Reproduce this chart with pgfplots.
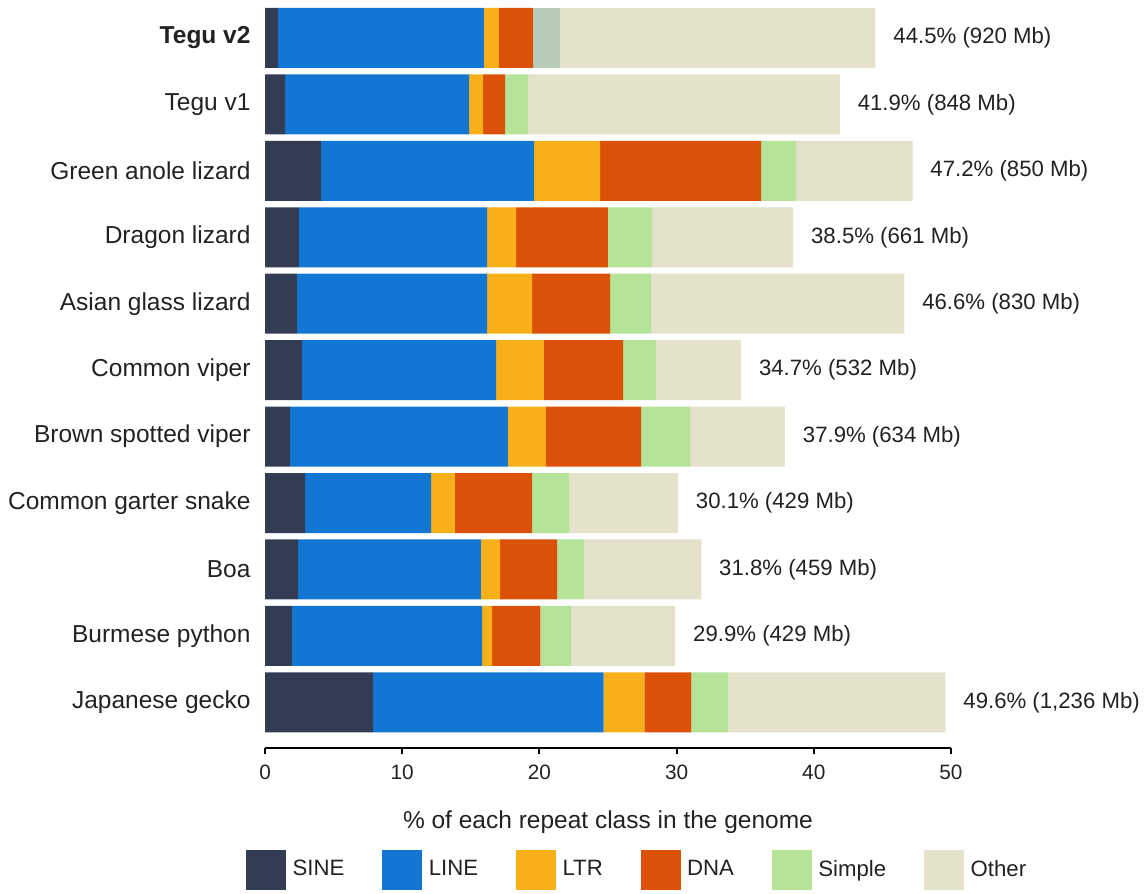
\documentclass[border=0pt]{standalone}
\usepackage{pgfplots}
\pgfplotsset{compat=1.18}
\usepackage{fontspec}
\setmainfont{Liberation Sans}
\definecolor{cSINE}{HTML}{323C52}
\definecolor{cLINE}{HTML}{1177D3}
\definecolor{cLTR}{HTML}{F8B01A}
\definecolor{cDNA}{HTML}{DA5107}
\definecolor{cSimple}{HTML}{B5E398}
\definecolor{cSimpleB}{HTML}{B6CCB6}
\definecolor{cOther}{HTML}{E4E2CA}
\definecolor{txt}{HTML}{222222}
\newcommand{\fs}{\fontsize{12.25}{14.5}\selectfont}
\newcommand{\fv}{\fontsize{11.1}{13}\selectfont}
\newcommand{\ft}{\fontsize{10.4}{12.5}\selectfont}
\begin{document}
\fs
\begin{tikzpicture}
\begin{axis}[
  xbar stacked,
  scale only axis,
  width=343pt, height=374pt,
  xmin=0, xmax=50, ymin=-0.685, ymax=10.572,
  bar width=0.903,
  axis x line*=bottom, axis y line*=left,
  y axis line style={draw=none},
  x axis line style={line width=1pt, black},
  ytick={0,...,10},
  yticklabels={Japanese gecko, Burmese python, Boa, Common garter snake, Brown spotted viper, Common viper, Asian glass lizard, Dragon lizard, Green anole lizard, Tegu v1, \textbf{Tegu v2}},
  ytick style={draw=none},
  xtick={0,10,...,50},
  xtick style={line width=1pt, black},
  tick align=outside,
  major tick length=3pt,
  xticklabel style={font=\ft, text=txt, yshift=-1.2pt},
  yticklabel style={font=\fs, text=txt, anchor=east, xshift=0pt},
  /pgf/number format/assume math mode=true,
  xlabel={\% of each repeat class in the genome},
  xlabel style={at={(axis description cs:0.5,0)}, anchor=center, yshift=-37pt, text=txt, font=\fs},
  legend columns=6,
  legend style={draw=none, at={(axis description cs:0.544,0)}, anchor=center, yshift=-61pt,
    font=\fv, text=txt,
    /tikz/every odd column/.append style={column sep=1.2pt},
    /tikz/every even column/.append style={column sep=17pt}},
  legend image code/.code={\fill[#1] (0pt,-10pt) rectangle (20pt,10pt);},
  every axis plot/.append style={draw=none},
]
% order: gecko, Burmese, Boa, garter, brown viper, common viper, Asian glass, dragon, green anole, tegu v1, tegu v2
\addplot[fill=cSINE] coordinates {(7.88,0) (1.95,1) (2.41,2) (2.92,3) (1.82,4) (2.71,5) (2.32,6) (2.47,7) (4.08,8) (1.46,9) (0.95,10)};
\addlegendentry{SINE}
\addplot[fill=cLINE] coordinates {(16.81,0) (13.88,1) (13.32,2) (9.19,3) (15.89,4) (14.14,5) (13.87,6) (13.72,7) (15.53,8) (13.42,9) (15.00,10)};
\addlegendentry{LINE}
\addplot[fill=cLTR] coordinates {(2.96,0) (0.72,1) (1.40,2) (1.73,3) (2.77,4) (3.48,5) (3.27,6) (2.11,7) (4.82,8) (1.02,9) (1.10,10)};
\addlegendentry{LTR}
\addplot[fill=cDNA] coordinates {(3.42,0) (3.52,1) (4.17,2) (5.62,3) (6.93,4) (5.77,5) (5.69,6) (6.70,7) (11.73,8) (1.60,9) (2.50,10)};
\addlegendentry{DNA}
\addplot[fill=cSimple] coordinates {(2.71,0) (2.24,1) (1.96,2) (2.71,3) (3.57,4) (2.41,5) (3.00,6) (3.21,7) (2.56,8) (1.67,9) (0,10)};
\addlegendentry{Simple}
\addplot[fill=cSimpleB, forget plot] coordinates {(0,0) (0,1) (0,2) (0,3) (0,4) (0,5) (0,6) (0,7) (0,8) (0,9) (1.95,10)};
\addplot[fill=cOther] coordinates {(15.82,0) (7.59,1) (8.54,2) (7.93,3) (6.92,4) (6.19,5) (18.45,6) (10.29,7) (8.48,8) (22.73,9) (23.00,10)};
\addlegendentry{Other}
\end{axis}
% overlay axis with the totals as labels at the bar ends
\begin{axis}[
  scale only axis,
  width=343pt, height=374pt,
  xmin=0, xmax=50, ymin=-0.685, ymax=10.572,
  hide axis,
]
\path (rel axis cs:0,1) -- (rel axis cs:1,0);
\addplot[draw=none, mark=none,
  nodes near coords, point meta=explicit symbolic,
  nodes near coords style={anchor=west, xshift=4.7pt, text=txt, font=\fv}]
  coordinates {
  (49.6,0) [49.6\% (1,236 Mb)]
  (29.9,1) [29.9\% (429 Mb)]
  (31.8,2) [31.8\% (459 Mb)]
  (30.1,3) [30.1\% (429 Mb)]
  (37.9,4) [37.9\% (634 Mb)]
  (34.7,5) [34.7\% (532 Mb)]
  (46.6,6) [46.6\% (830 Mb)]
  (38.5,7) [38.5\% (661 Mb)]
  (47.2,8) [47.2\% (850 Mb)]
  (41.9,9) [41.9\% (848 Mb)]
  (44.5,10) [44.5\% (920 Mb)]
  };
\end{axis}
\end{tikzpicture}
\end{document}
